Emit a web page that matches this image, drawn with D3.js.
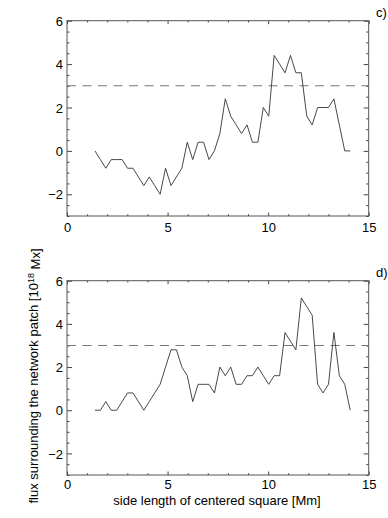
<!DOCTYPE html>
<html>
<head>
<meta charset="utf-8">
<script src="https://cdn.jsdelivr.net/npm/d3@7"></script>
<style>
    body { margin: 0; background: #fff; }
    svg text { font-family: "Liberation Sans", Arial, sans-serif; font-size: 13px; fill: #000; }
</style>
</head>
<body>
<svg id="chart" width="388" height="518"></svg>
<script>
// side length of centered square [Mm]
const sideLength = [1.39, 1.66, 1.93, 2.20, 2.47, 2.74, 3.01, 3.28, 3.55, 3.82, 4.09, 4.36,
    4.63, 4.90, 5.17, 5.44, 5.71, 5.98, 6.25, 6.52, 6.79, 7.06, 7.33, 7.60,
    7.87, 8.14, 8.41, 8.68, 8.95, 9.22, 9.49, 9.76, 10.03, 10.30, 10.57, 10.84,
    11.11, 11.38, 11.65, 11.92, 12.19, 12.46, 12.73, 13.00, 13.27, 13.54, 13.81, 14.08];

// panel c)
const fluxC = [0, -0.4, -0.8, -0.4, -0.4, -0.4, -0.8, -0.8, -1.2, -1.6, -1.2, -1.6,
    -2.0, -0.8, -1.6, -1.2, -0.8, 0.4, -0.4, 0.4, 0.4, -0.4, 0, 0.8,
    2.4, 1.6, 1.2, 0.8, 1.2, 0.4, 0.4, 2.0, 1.6, 4.4, 4.0, 3.6,
    4.4, 3.6, 3.6, 1.6, 1.2, 2.0, 2.0, 2.0, 2.4, 1.2, 0, 0];

// panel d)
const fluxD = [0, 0, 0.4, 0, 0, 0.4, 0.8, 0.8, 0.4, 0, 0.4, 0.8,
    1.2, 2.0, 2.8, 2.8, 2.0, 1.6, 0.4, 1.2, 1.2, 1.2, 0.8, 2.0,
    1.6, 2.0, 1.2, 1.2, 1.6, 1.6, 2.0, 1.6, 1.2, 1.6, 1.6, 3.6,
    3.2, 2.8, 5.2, 4.8, 4.4, 1.2, 0.8, 1.2, 3.6, 1.6, 1.2, 0];

const xTicks = [0, 5, 10, 15];
const xMinor = d3.range(0, 16, 1).filter(v => v % 5 !== 0);
const yTicks = [-2, 0, 2, 4, 6];
const yMinor = d3.range(-3, 6.01, 0.5).filter(v => v % 2 !== 0);
const threshold = 3;

const PANELS = [
    { label: "c)", values: fluxC, top: 20.7, bottom: 216, pad: 6.5 },
    { label: "d)", values: fluxD, top: 280.7, bottom: 475, pad: 4.5 }
];

const LEFT = 67, RIGHT = 368.7;
const svg = d3.select("#chart");

var x = d3.scaleLinear().domain([0, 15]).range([LEFT, RIGHT]);

PANELS.forEach(function (p) {
    var y = d3.scaleLinear().domain([-3, 6]).range([p.bottom, p.top]);
    var g = svg.append("g");
    var h = p.bottom - p.top;
    var w = RIGHT - LEFT;

    // ticks, all pointing into the box
    var addAxis = function (axis, tx, ty, labels) {
        var a = g.append("g").attr("transform", "translate(" + tx + "," + ty + ")").call(axis);
        a.select(".domain").remove();
        a.selectAll("line").attr("stroke", "#444");
        if (!labels) a.selectAll("text").remove();
        return a;
    };

    addAxis(d3.axisBottom(x).tickValues(xTicks).tickSize(-3.5).tickPadding(p.pad).tickFormat(d3.format("d")), 0, p.bottom, true);
    addAxis(d3.axisBottom(x).tickValues(xMinor).tickSize(-1.8).tickFormat(""), 0, p.bottom, false);
    addAxis(d3.axisTop(x).tickValues(xTicks).tickSize(-3.5), 0, p.top, false);
    addAxis(d3.axisTop(x).tickValues(xMinor).tickSize(-1.8), 0, p.top, false);

    var yl = addAxis(d3.axisLeft(y).tickValues(yTicks).tickSize(-5).tickPadding(4).tickFormat(d => d < 0 ? "\u2212" + Math.abs(d) : d), LEFT, 0, true);
    yl.selectAll("text").attr("dy", "0.36em");
    addAxis(d3.axisLeft(y).tickValues(yMinor).tickSize(-2.5).tickFormat(""), LEFT, 0, false);
    addAxis(d3.axisRight(y).tickValues(yTicks).tickSize(-5), RIGHT, 0, false);
    addAxis(d3.axisRight(y).tickValues(yMinor).tickSize(-2.5), RIGHT, 0, false);

    g.selectAll("text").style("font-size", "13px").attr("fill", "#000");

    g.append("rect")
        .attr("x", LEFT).attr("y", p.top)
        .attr("width", w).attr("height", h)
        .attr("fill", "none")
        .attr("stroke", "#555")
        .attr("stroke-width", 1);

    g.append("line")
        .attr("x1", LEFT).attr("x2", RIGHT)
        .attr("y1", y(threshold)).attr("y2", y(threshold))
        .attr("stroke", "#777")
        .attr("stroke-width", 1.1)
        .attr("stroke-dasharray", "9,6.5");

    var line = d3.line()
        .x(function (d, i) { return x(sideLength[i]); })
        .y(function (d) { return y(d); });

    g.append("path")
        .datum(p.values)
        .attr("d", line)
        .attr("fill", "none")
        .attr("stroke", "#333")
        .attr("stroke-width", 0.9);

    g.append("text")
        .attr("x", 376)
        .attr("y", p.top - 3.6)
        .text(p.label);
});

// axis titles
svg.append("text")
    .attr("x", 217)
    .attr("y", 504.5)
    .attr("text-anchor", "middle")
    .text("side length of centered square [Mm]");

var yTitle = svg.append("text")
    .attr("transform", "translate(38,376) rotate(-90)")
    .attr("text-anchor", "middle");
yTitle.append("tspan").text("flux surrounding the network patch [10");
yTitle.append("tspan").attr("dy", "-0.45em").style("font-size", "9px").text("18");
yTitle.append("tspan").attr("dy", "0.45em").text(" Mx]");
</script>
</body>
</html>
